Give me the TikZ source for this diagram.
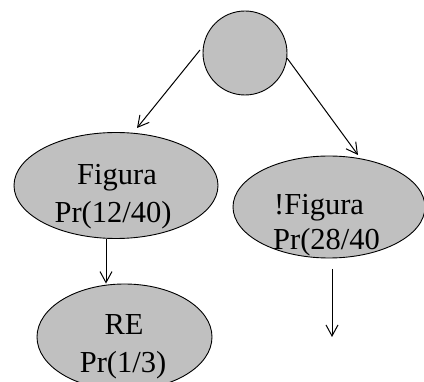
\documentclass[tikz,border=0pt]{standalone}
\usepackage{fontspec}
\setmainfont{Liberation Serif}
\usetikzlibrary{shapes.geometric,arrows.meta}
\definecolor{nodegray}{RGB}{192,192,192}
\begin{document}
\begin{tikzpicture}[x=1pt,y=-1pt,
  bubble/.style={draw=black,line width=0.9pt,fill=nodegray,inner sep=0pt},
  oval/.style={bubble,ellipse},
  lbl/.style={inner sep=0pt,font=\fontsize{30.5}{36}\selectfont},
  arr/.style={draw=black,line width=1pt,-{Straight Barb[length=11pt,width=12pt,line width=1pt]}}]
\useasboundingbox (0,0) rectangle (424,382);
\node[bubble,circle,minimum size=84pt] (top) at (245,53) {};
\node[oval,minimum width=204pt,minimum height=106pt] (fig) at (116,185.5) {};
\node[oval,minimum width=192pt,minimum height=102pt] (nfig) at (329,207) {};
\node[oval,minimum width=175pt,minimum height=106pt] (re) at (124.5,337) {};
\node[lbl,anchor=base] (figa) at (117,185) {Figura};
\node[lbl,anchor=base] (figb) at (113,223) {Pr(12/40)};
\node[lbl,anchor=base west] (nfiga) at (274,215) {!Figura};
\node[lbl,anchor=base west] (nfigb) at (273,250) {Pr(28/40};
\node[lbl,anchor=base] (rea) at (124,335) {RE};
\node[lbl,anchor=base] (reb) at (123,373) {Pr(1/3)};
\coordinate (s1) at (200,50);
\coordinate (t1) at (137,128);
\coordinate (s2) at (287,58);
\coordinate (t2) at (358,155);
\draw[arr] (s1) -- (t1);
\draw[arr] (s2) -- (t2);
\draw[arr] ([xshift=-10pt]fig.south) -- ([xshift=-10pt]fig.south |- re.north);
\coordinate (d1) at (332,269);
\coordinate (d2) at (332,337);
\draw[arr] (d1) -- (d2);
\end{tikzpicture}
\end{document}
